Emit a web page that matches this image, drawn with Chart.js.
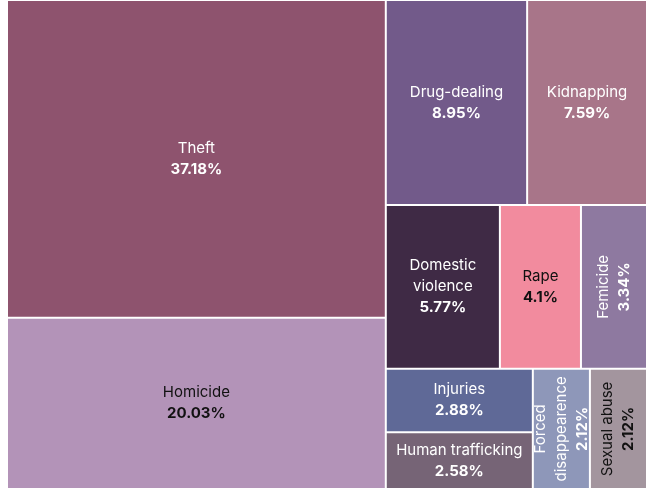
<!DOCTYPE html>
<html>
<head>
<meta charset="utf-8">
<script src="https://cdn.jsdelivr.net/npm/chart.js@4.4.0/dist/chart.umd.min.js"></script>
<style>
  html, body { margin: 0; padding: 0; background: #fff; }
  #wrap { width: 647px; height: 489px; position: relative; }
</style>
</head>
<body>
<div id="wrap"><canvas id="crimeMap"></canvas></div>
<script>
// crime categories, biggest first
const crimes = ["Theft", "Homicide", "Drug-dealing", "Kidnapping", "Domestic violence", "Rape",
  "Femicide", "Injuries", "Human trafficking", "Forced disappearence", "Sexual abuse"];
// share of reports (%)
const shares = [37.18, 20.03, 8.95, 7.59, 5.77, 4.1, 3.34, 2.88, 2.58, 2.12, 2.12];

const cellColors = ["#8e536e", "#b393b8", "#725a8a", "#a87589", "#3f2a45", "#f28b9e",
  "#8e79a0", "#5f6997", "#766476", "#8e97b9", "#a3959e"];
const textColors = ["#fff", "#111", "#fff", "#fff", "#fff", "#111",
  "#fff", "#fff", "#fff", "#fff", "#111"];

const FONT = "Inter, 'Open Sans', sans-serif";
const LINE = 21;

// squarified layout (golden ratio), same idea as d3.treemapSquarify
function squarify(values, x0, y0, x1, y1) {
  const ratio = (1 + Math.sqrt(5)) / 2;
  const boxes = [];
  let value = values.reduce((a, b) => a + b, 0);
  let i0 = 0, i1 = 0;
  const n = values.length;
  while (i0 < n) {
    const dx = x1 - x0, dy = y1 - y0;
    let sum = values[i1++];
    let minV = sum, maxV = sum;
    const alpha = Math.max(dy / dx, dx / dy) / (value * ratio);
    let beta = sum * sum * alpha;
    let minRatio = Math.max(maxV / beta, beta / minV);
    for (; i1 < n; ++i1) {
      const v = values[i1];
      sum += v;
      if (v < minV) minV = v;
      if (v > maxV) maxV = v;
      beta = sum * sum * alpha;
      const newRatio = Math.max(maxV / beta, beta / minV);
      if (newRatio > minRatio) { sum -= v; break; }
      minRatio = newRatio;
    }
    const dice = dx < dy;
    if (dice) {
      // row along the top
      const h = dy * sum / value;
      let x = x0;
      for (let i = i0; i < i1; i++) {
        const w = dx * values[i] / sum;
        boxes[i] = { x0: x, y0: y0, x1: x + w, y1: y0 + h };
        x += w;
      }
      y0 += h;
    } else {
      // column on the left
      const w = dx * sum / value;
      let y = y0;
      for (let i = i0; i < i1; i++) {
        const h = dy * values[i] / sum;
        boxes[i] = { x0: x0, y0: y, x1: x0 + w, y1: y + h };
        y += h;
      }
      x0 += w;
    }
    value -= sum;
    i0 = i1;
  }
  return boxes;
}

// wrap words into lines that fit maxW
function wrapWords(ctx, text, maxW) {
  const words = text.split(" ");
  const lines = [];
  let cur = "";
  words.forEach(w => {
    const test = cur ? cur + " " + w : w;
    if (cur && ctx.measureText(test).width > maxW) {
      lines.push(cur);
      cur = w;
    } else {
      cur = test;
    }
  });
  if (cur) lines.push(cur);
  return lines;
}

class TreemapController extends Chart.DatasetController {
  update(mode) {
    const meta = this._cachedMeta;
    this.updateElements(meta.data, 0, meta.data.length, mode);
  }

  updateElements(rects, start, count, mode) {
    const { xScale, yScale } = this._cachedMeta;
    const data = this.getDataset().data;
    const left = xScale.getPixelForValue(0);
    const right = xScale.getPixelForValue(1);
    const top = yScale.getPixelForValue(0);
    const bottom = yScale.getPixelForValue(1);
    const boxes = squarify(data, left, top, right, bottom);
    this._boxes = boxes;
    for (let i = start; i < start + count; i++) {
      const b = boxes[i];
      const props = {
        x: (b.x0 + b.x1) / 2,
        y: b.y0,
        base: b.y1,
        width: b.x1 - b.x0,
        height: b.y1 - b.y0,
        horizontal: false,
        inflateAmount: 0,
        enableBorderRadius: false,
        borderSkipped: { top: false, bottom: false, left: false, right: false },
        options: this.resolveDataElementOptions(i, mode)
      };
      this.updateElement(rects[i], i, props, mode);
    }
  }

  draw() {
    super.draw();
    const ctx = this.chart.ctx;
    const ds = this.getDataset();
    const labels = this.chart.data.labels;
    (this._boxes || []).forEach((b, i) => {
      const w = b.x1 - b.x0, h = b.y1 - b.y0;
      const name = labels[i];
      const pct = ds.data[i] + "%";
      ctx.save();
      ctx.font = "15px " + FONT;
      // rotate when the longest word won't fit across
      const longest = Math.max(...name.split(" ").map(s => ctx.measureText(s).width));
      const rotate = longest > w - 10 && h > w;
      const avail = (rotate ? h : w) - 12;
      const lines = wrapWords(ctx, name, avail);
      const total = (lines.length + 1) * LINE;
      ctx.translate((b.x0 + b.x1) / 2, (b.y0 + b.y1) / 2);
      if (rotate) ctx.rotate(-Math.PI / 2);
      ctx.fillStyle = ds.labelColors[i];
      ctx.textAlign = "center";
      ctx.textBaseline = "middle";
      let y = -total / 2 + LINE / 2;
      lines.forEach(l => {
        ctx.fillText(l, 0, y);
        y += LINE;
      });
      ctx.font = "bold 15px " + FONT;
      ctx.fillText(pct, 0, y);
      ctx.restore();
    });
  }
}
TreemapController.id = "treemap";
TreemapController.defaults = { datasetElementType: false, dataElementType: "bar" };
TreemapController.overrides = {
  scales: {
    x: { type: "linear", display: false, min: 0, max: 1 },
    y: { type: "linear", display: false, min: 0, max: 1, reverse: true }
  }
};
Chart.register(TreemapController);

const ctx = document.getElementById("crimeMap").getContext("2d");
const crimeChart = new Chart(ctx, {
  type: "treemap",
  data: {
    labels: crimes,
    datasets: [{
      label: "Share of crimes",
      data: shares,
      backgroundColor: cellColors,
      borderColor: "#ffffff",
      borderWidth: 1,
      labelColors: textColors
    }]
  },
  options: {
    responsive: true,
    maintainAspectRatio: false,
    animation: false,
    layout: { padding: { left: 7, top: 0, right: -1, bottom: -1 } },
    scales: {
      x: { type: "linear", display: false, min: 0, max: 1 },
      y: { type: "linear", display: false, min: 0, max: 1, reverse: true }
    },
    plugins: {
      legend: { display: false },
      tooltip: { enabled: false }
    }
  }
});
</script>
</body>
</html>
